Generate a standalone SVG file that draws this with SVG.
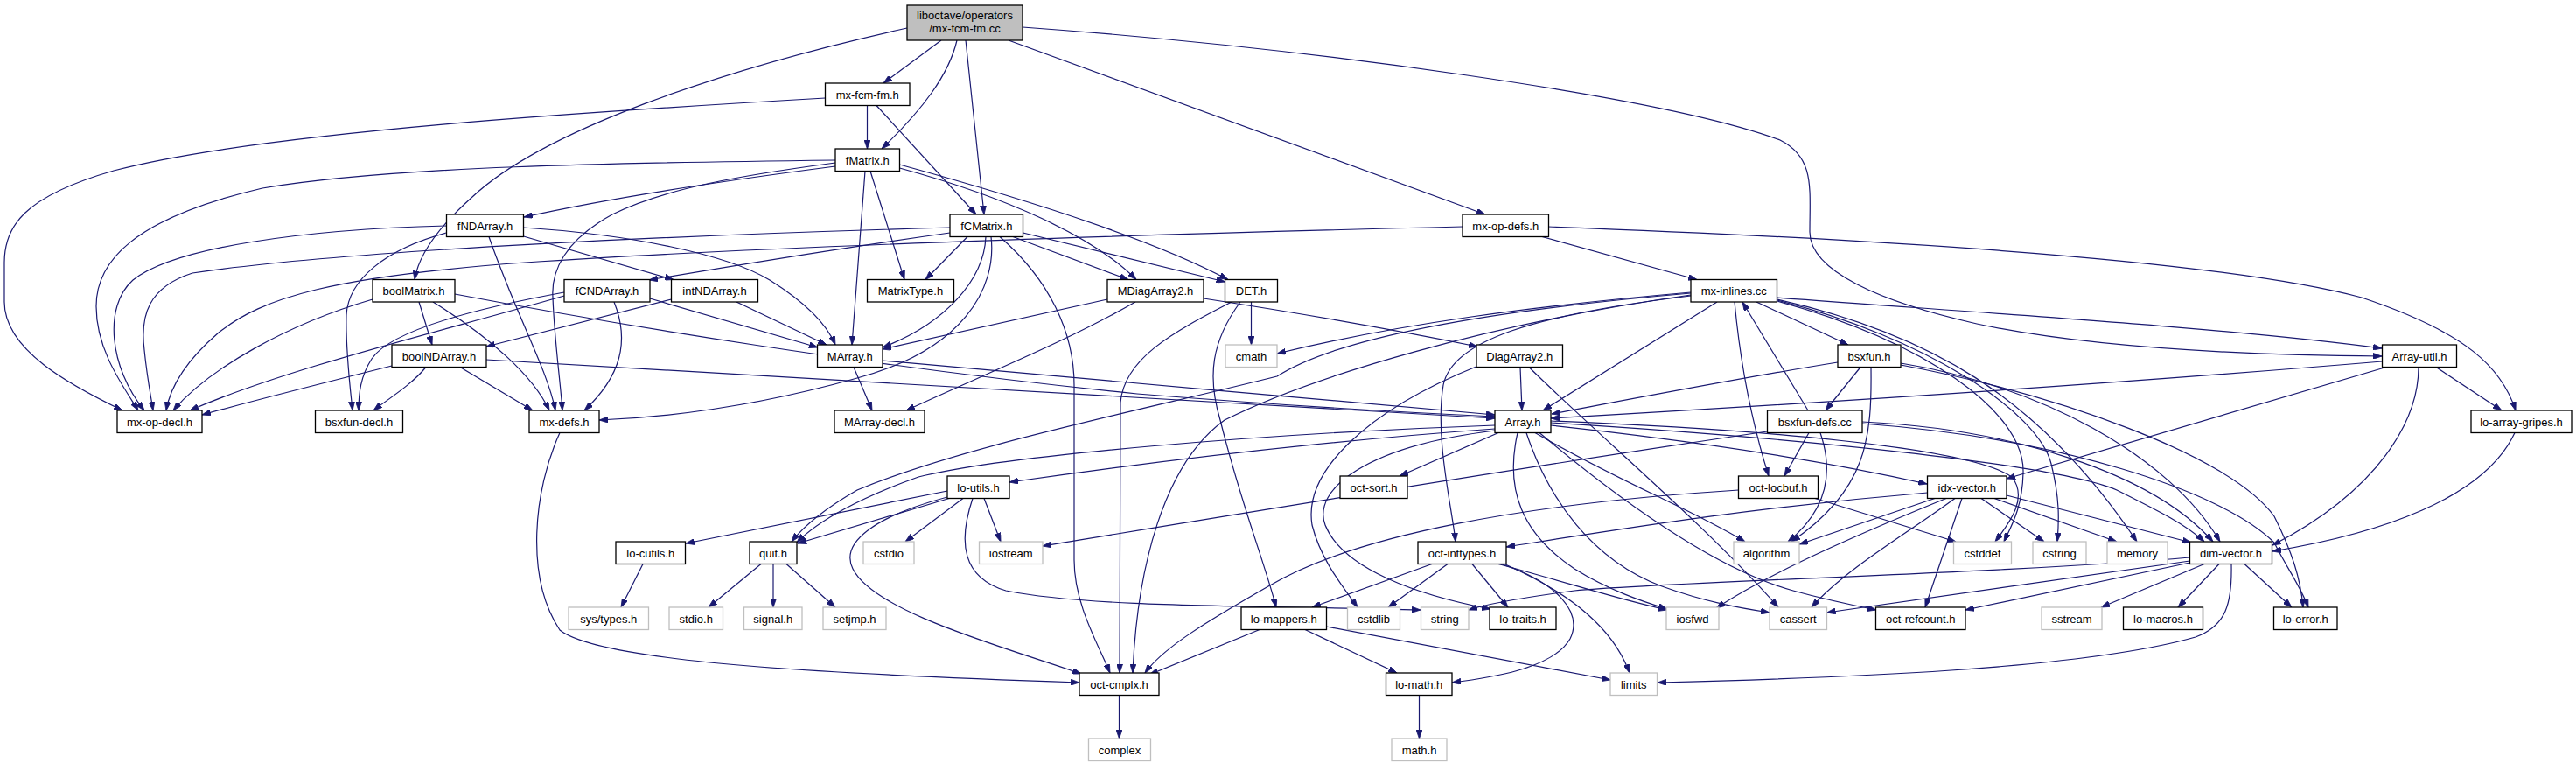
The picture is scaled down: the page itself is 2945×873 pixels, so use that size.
<svg xmlns="http://www.w3.org/2000/svg" width="2945" height="873" viewBox="0 0 2945 873">
<defs>
<marker id="a" viewBox="0 0 10 7" refX="10" refY="3.5" markerWidth="10" markerHeight="7" markerUnits="userSpaceOnUse" orient="auto">
<path d="M0,0 L10,3.5 L0,7 z" fill="#191970" stroke="#191970" stroke-width="0.8"/>
</marker>
<style>
rect{fill:#fff;stroke:#000;stroke-width:1.3}
.g rect{stroke:#bfbfbf}
.r rect{fill:#bfbfbf}
text{font-family:"Liberation Sans",Arial,Helvetica,sans-serif;font-size:13px;text-anchor:middle;fill:#000}
#edges path{fill:none;stroke:#191970;stroke-width:1.2;marker-end:url(#a)}
</style>
</defs>
<rect x="0" y="0" width="2945" height="873" style="fill:#fff;stroke:none"/>
<g id="edges">
<path d="M1076,46 L1010,95"/>
<path d="M1094,46 C1085,85 1055,125 1008,170"/>
<path d="M1104,46 L1125,245"/>
<path d="M1153,46 L1698,245"/>
<path d="M1037,32 C820,80 620,150 540,225 C495,265 478,295 474,319.5"/>
<path d="M1169,31 C1500,55 1900,110 2035,160 C2075,180 2069,215 2069,265 C2069,310 2150,345 2260,370 C2400,400 2600,406 2723,407"/>
<path d="M943.5,112 C700,126 300,150 130,195 C25,225 5,260 5,300 L5,345 C5,400 80,440 140,469"/>
<path d="M991.5,120.5 L991.5,170"/>
<path d="M1002,120.5 L1116,245"/>
<path d="M955,183 C700,186 450,190 300,215 C150,250 110,300 110,350 C110,400 140,440 158,469"/>
<path d="M955,190 C800,210 680,230 599,248"/>
<path d="M955,186 C850,200 760,215 700,245 C645,275 630,310 632,340 C634,390 640,430 643,469"/>
<path d="M989,195.5 L974,394"/>
<path d="M995,195.5 L1034,319.5"/>
<path d="M1028.5,192 C1150,225 1250,270 1299,319.5"/>
<path d="M1028.5,188 C1200,235 1330,280 1404,319.5"/>
<path d="M510.5,258 C350,262 200,282 152,320 C118,350 125,420 165,469"/>
<path d="M510.5,266 C440,285 398,320 396,360 C395,400 400,440 403,469"/>
<path d="M559,270.5 C590,360 625,420 635,469"/>
<path d="M598.5,260 C720,268 830,290 880,320 C920,345 945,370 955,394"/>
<path d="M598.5,270 L770,319.5"/>
<path d="M1086,260 C800,268 400,285 220,312 C170,328 160,360 165,400 C168,430 172,450 175,469"/>
<path d="M1086,266 C950,285 830,305 742,320"/>
<path d="M1106,270.5 L1058,319.5"/>
<path d="M1127,270.5 C1125,320 1080,370 1009,397"/>
<path d="M1133,270.5 C1140,330 1100,400 980,432 C880,460 780,476 685,480"/>
<path d="M1143,270.5 C1200,320 1228,380 1228,440 L1228,640 C1228,690 1255,735 1269,769"/>
<path d="M1158,270.5 L1290,319.5"/>
<path d="M1169.5,266 L1400.5,322"/>
<path d="M1672,259 C1300,268 900,280 600,300 C380,316 300,340 250,380 C215,410 195,440 190,469"/>
<path d="M1763,270.5 L1940,319.5"/>
<path d="M1770.5,259 C2200,275 2550,300 2700,340 C2820,380 2860,420 2876,469"/>
<path d="M426,342 C330,370 240,420 198,469"/>
<path d="M479,345 L494,394"/>
<path d="M495,345 C560,385 610,430 628,469"/>
<path d="M520,336 C700,370 1000,420 1300,450 C1500,466 1620,472 1709,476"/>
<path d="M556,411 C900,430 1300,455 1709,478"/>
<path d="M1009,412 C1200,430 1500,455 1709,474"/>
<path d="M448,418 C380,435 300,455 231,474"/>
<path d="M487,419.5 C470,440 445,455 427,469"/>
<path d="M526,419.5 L609,469"/>
<path d="M645,334 C530,355 445,380 425,410 C412,430 410,450 410,469"/>
<path d="M645,338 C500,380 330,420 217,469"/>
<path d="M702,345 C720,390 710,430 668,469"/>
<path d="M743,341 L935,397"/>
<path d="M767.5,342 L556,396"/>
<path d="M842,345 L945,394"/>
<path d="M1266,342 L1009,399"/>
<path d="M1298,345 C1220,390 1120,430 1036,469"/>
<path d="M1376,341 C1500,360 1600,378 1689,396"/>
<path d="M1430.5,345 L1430.5,394"/>
<path d="M1408,345 C1340,380 1285,410 1281,460 L1280,769"/>
<path d="M1418,345 C1385,390 1380,430 1395,480 C1420,580 1445,640 1459,694"/>
<path d="M1933,334 C1750,350 1600,370 1460,404"/>
<path d="M1933,335 C1700,355 1530,385 1460,430 C1300,470 1100,510 980,560 C945,580 920,600 905,619"/>
<path d="M1933,337 C1700,370 1500,430 1400,480 C1330,530 1300,650 1295,769"/>
<path d="M1933,338 C1750,360 1660,390 1650,440 C1640,500 1660,580 1664,619"/>
<path d="M1963,345 L1764,469"/>
<path d="M1983,345 C1990,420 2005,490 2022,544"/>
<path d="M2008,345 L2113,394"/>
<path d="M2031.5,340 C2300,360 2550,375 2723,398"/>
<path d="M2031.5,342 C2200,380 2330,450 2443,619"/>
<path d="M2031.5,344 C2200,390 2315,470 2313,540 C2312,580 2300,600 2291,619"/>
<path d="M2031.5,343 C2200,385 2330,470 2345,530 C2355,570 2354,595 2352,619"/>
<path d="M2101,414 C2000,430 1870,455 1774,473"/>
<path d="M2127,419.5 L2087,469"/>
<path d="M2139,419.5 C2140,500 2135,560 2048,619"/>
<path d="M2173,415 C2330,440 2480,520 2538,619"/>
<path d="M2173,417 C2350,450 2550,520 2600,590 C2620,630 2630,660 2633,694"/>
<path d="M2723.5,413 C2400,440 2000,465 1773,478"/>
<path d="M2728,419.5 L2294,547"/>
<path d="M2765,419.5 C2765,480 2720,560 2598,623"/>
<path d="M2785,419.5 L2860,469"/>
<path d="M2067,469 L1992,345"/>
<path d="M2068,494.5 L2040,544"/>
<path d="M2081,494.5 C2100,550 2080,590 2044,619"/>
<path d="M2020.5,493 C1700,540 1400,590 1192,624"/>
<path d="M2129,482 C2300,490 2460,540 2530,619"/>
<path d="M2129,484 C2350,500 2540,560 2600,620 C2615,650 2630,670 2639,694"/>
<path d="M1709,490 C1500,505 1300,530 1154,551"/>
<path d="M1709,486 C1450,495 1150,520 1050,545 C985,568 935,595 911,620"/>
<path d="M1713,494.5 L1600,544"/>
<path d="M1709,492 C1560,510 1500,560 1515,600 C1535,650 1620,680 1704,696"/>
<path d="M1735,494.5 C1720,560 1740,610 1800,650 C1840,675 1880,688 1906,696"/>
<path d="M1745,494.5 C1770,570 1820,640 1900,670 C1950,688 1990,695 2023,700"/>
<path d="M1755,494.5 C1850,550 1930,580 1995,619"/>
<path d="M1760,494.5 C1850,570 1960,650 2050,675 C2090,686 2120,692 2145,697"/>
<path d="M1773,486 C1950,505 2100,530 2203,553"/>
<path d="M1773,483 C2050,500 2350,530 2420,560 C2470,585 2500,600 2520,619"/>
<path d="M1773,481 C2000,490 2250,510 2300,545 C2320,570 2295,600 2281,619"/>
<path d="M1083,561 L784,621"/>
<path d="M1085,569.5 L912,621"/>
<path d="M1101,569.5 L1035,619"/>
<path d="M1125,569.5 L1144,619"/>
<path d="M1083,568 C1000,590 960,620 975,650 C1000,700 1150,740 1236,770"/>
<path d="M1112,569.5 C1095,620 1100,660 1150,675 C1250,695 1450,692 1624,697"/>
<path d="M735,644.5 L710,694"/>
<path d="M870,644.5 L810,694"/>
<path d="M884,644.5 L884,694"/>
<path d="M899,644.5 L955,694"/>
<path d="M1637,644.5 L1500,694"/>
<path d="M1655,644.5 L1587,694"/>
<path d="M1683,644.5 L1724,694"/>
<path d="M1713,644.5 C1790,665 1850,685 1906,697"/>
<path d="M1716,644.5 C1780,665 1810,700 1795,730 C1775,765 1700,775 1660,780"/>
<path d="M1720,644.5 C1800,680 1845,720 1863,769"/>
<path d="M1440,719.5 L1314,771"/>
<path d="M1492,719.5 L1597,769"/>
<path d="M1516.5,716 L1841,777"/>
<path d="M1987.5,560 C1750,575 1550,610 1450,670 C1380,710 1330,740 1309,769"/>
<path d="M2075,569.5 L2236,619"/>
<path d="M2203.5,563 C2000,580 1850,605 1722,625"/>
<path d="M2212,569.5 L2057,622"/>
<path d="M2225,569.5 C2150,600 2030,650 1962,695"/>
<path d="M2235,569.5 C2180,610 2110,650 2071,694"/>
<path d="M2243,569.5 L2201,694"/>
<path d="M2265,569.5 L2337,619"/>
<path d="M2280,569.5 L2420,619"/>
<path d="M2294,566 L2505,620"/>
<path d="M2503.5,637 C2300,655 1900,665 1800,675 C1740,683 1700,690 1679,697"/>
<path d="M2503.5,641 C2300,670 2150,690 2088.5,700"/>
<path d="M2503.5,643 L2247,697"/>
<path d="M2520,644.5 L2402,694"/>
<path d="M2537,644.5 L2490,694"/>
<path d="M2566,644.5 L2620,694"/>
<path d="M2551,644.5 C2552,690 2545,715 2510,728 C2380,765 2100,775 1895,780"/>
<path d="M2875,494.5 C2840,570 2720,610 2598,630"/>
<path d="M1622.5,794.5 L1622.5,844"/>
<path d="M1279.5,794.5 L1279.5,844"/>
<path d="M640,494.5 C610,560 600,660 640,720 C690,760 1000,772 1234,780"/>
<path d="M976,419.5 L997,469"/>
<path d="M1738,419.5 L1740,469"/>
<path d="M1748,419.5 C1830,500 1950,600 2033,694"/>
<path d="M1690,418 C1560,470 1490,540 1500,600 C1510,640 1535,670 1552,694"/>
</g>
<g id="node-top" class="r"><rect x="1037" y="6" width="132" height="40"/><text x="1103" y="22">liboctave/operators</text><text x="1103" y="37">/mx-fcm-fm.cc</text></g>
<g id="node-mx-fcm-fm-h"><rect x="943.5" y="95" width="96.5" height="25.5"/><text x="991.75" y="112.5">mx-fcm-fm.h</text></g>
<g id="node-fMatrix-h"><rect x="955" y="170" width="73.5" height="25.5"/><text x="991.75" y="187.5">fMatrix.h</text></g>
<g id="node-fNDArray-h"><rect x="510.5" y="245" width="88" height="25.5"/><text x="554.5" y="262.5">fNDArray.h</text></g>
<g id="node-fCMatrix-h"><rect x="1086" y="245" width="83.5" height="25.5"/><text x="1127.75" y="262.5">fCMatrix.h</text></g>
<g id="node-mx-op-defs-h"><rect x="1672" y="245" width="98.5" height="25.5"/><text x="1721.25" y="262.5">mx-op-defs.h</text></g>
<g id="node-boolMatrix-h"><rect x="426" y="319.5" width="94" height="25.5"/><text x="473" y="337">boolMatrix.h</text></g>
<g id="node-fCNDArray-h"><rect x="645" y="319.5" width="98" height="25.5"/><text x="694" y="337">fCNDArray.h</text></g>
<g id="node-intNDArray-h"><rect x="767.5" y="319.5" width="99" height="25.5"/><text x="817" y="337">intNDArray.h</text></g>
<g id="node-MatrixType-h"><rect x="991.5" y="319.5" width="99" height="25.5"/><text x="1041" y="337">MatrixType.h</text></g>
<g id="node-MDiagArray2-h"><rect x="1266" y="319.5" width="110" height="25.5"/><text x="1321" y="337">MDiagArray2.h</text></g>
<g id="node-DET-h"><rect x="1400.5" y="319.5" width="60" height="25.5"/><text x="1430.5" y="337">DET.h</text></g>
<g id="node-mx-inlines-cc"><rect x="1933" y="319.5" width="98.5" height="25.5"/><text x="1982.25" y="337">mx-inlines.cc</text></g>
<g id="node-boolNDArray-h"><rect x="448" y="394" width="108" height="25.5"/><text x="502" y="411.5">boolNDArray.h</text></g>
<g id="node-MArray-h"><rect x="934.5" y="394" width="74.5" height="25.5"/><text x="971.75" y="411.5">MArray.h</text></g>
<g id="node-cmath" class="g"><rect x="1401" y="394" width="59" height="25.5"/><text x="1430.5" y="411.5">cmath</text></g>
<g id="node-DiagArray2-h"><rect x="1688" y="394" width="98.5" height="25.5"/><text x="1737.25" y="411.5">DiagArray2.h</text></g>
<g id="node-bsxfun-h"><rect x="2101" y="394" width="72" height="25.5"/><text x="2137" y="411.5">bsxfun.h</text></g>
<g id="node-Array-util-h"><rect x="2723.5" y="394" width="85" height="25.5"/><text x="2766" y="411.5">Array-util.h</text></g>
<g id="node-mx-op-decl-h"><rect x="134" y="469" width="97" height="25.5"/><text x="182.5" y="486.5">mx-op-decl.h</text></g>
<g id="node-bsxfun-decl-h"><rect x="360.5" y="469" width="100" height="25.5"/><text x="410.5" y="486.5">bsxfun-decl.h</text></g>
<g id="node-mx-defs-h"><rect x="605" y="469" width="80" height="25.5"/><text x="645" y="486.5">mx-defs.h</text></g>
<g id="node-MArray-decl-h"><rect x="954" y="469" width="103" height="25.5"/><text x="1005.5" y="486.5">MArray-decl.h</text></g>
<g id="node-Array-h"><rect x="1709" y="469" width="64" height="25.5"/><text x="1741" y="486.5">Array.h</text></g>
<g id="node-bsxfun-defs-cc"><rect x="2020.5" y="469" width="108.5" height="25.5"/><text x="2074.75" y="486.5">bsxfun-defs.cc</text></g>
<g id="node-lo-array-gripes-h"><rect x="2825" y="469" width="115" height="25.5"/><text x="2882.5" y="486.5">lo-array-gripes.h</text></g>
<g id="node-lo-utils-h"><rect x="1083" y="544" width="71" height="25.5"/><text x="1118.5" y="561.5">lo-utils.h</text></g>
<g id="node-oct-sort-h"><rect x="1532" y="544" width="77" height="25.5"/><text x="1570.5" y="561.5">oct-sort.h</text></g>
<g id="node-idx-vector-h"><rect x="2203.5" y="544" width="90.5" height="25.5"/><text x="2248.75" y="561.5">idx-vector.h</text></g>
<g id="node-oct-locbuf-h"><rect x="1987.5" y="544" width="91" height="25.5"/><text x="2033" y="561.5">oct-locbuf.h</text></g>
<g id="node-lo-cutils-h"><rect x="704" y="619" width="79.5" height="25.5"/><text x="743.75" y="636.5">lo-cutils.h</text></g>
<g id="node-quit-h"><rect x="857" y="619" width="54" height="25.5"/><text x="884" y="636.5">quit.h</text></g>
<g id="node-cstdio" class="g"><rect x="987" y="619" width="58" height="25.5"/><text x="1016" y="636.5">cstdio</text></g>
<g id="node-iostream" class="g"><rect x="1119.5" y="619" width="72.5" height="25.5"/><text x="1155.75" y="636.5">iostream</text></g>
<g id="node-oct-inttypes-h"><rect x="1621" y="619" width="101" height="25.5"/><text x="1671.5" y="636.5">oct-inttypes.h</text></g>
<g id="node-algorithm" class="g"><rect x="1982" y="619" width="75" height="25.5"/><text x="2019.5" y="636.5">algorithm</text></g>
<g id="node-cstddef" class="g"><rect x="2233.5" y="619" width="66" height="25.5"/><text x="2266.5" y="636.5">cstddef</text></g>
<g id="node-cstring" class="g"><rect x="2324" y="619" width="61" height="25.5"/><text x="2354.5" y="636.5">cstring</text></g>
<g id="node-memory" class="g"><rect x="2409" y="619" width="69" height="25.5"/><text x="2443.5" y="636.5">memory</text></g>
<g id="node-dim-vector-h"><rect x="2503.5" y="619" width="94" height="25.5"/><text x="2550.5" y="636.5">dim-vector.h</text></g>
<g id="node-sys-types-h" class="g"><rect x="650" y="694" width="91.5" height="25.5"/><text x="695.75" y="711.5">sys/types.h</text></g>
<g id="node-stdio-h" class="g"><rect x="765" y="694" width="61.5" height="25.5"/><text x="795.75" y="711.5">stdio.h</text></g>
<g id="node-signal-h" class="g"><rect x="850.5" y="694" width="66.5" height="25.5"/><text x="883.75" y="711.5">signal.h</text></g>
<g id="node-setjmp-h" class="g"><rect x="941" y="694" width="72" height="25.5"/><text x="977" y="711.5">setjmp.h</text></g>
<g id="node-lo-mappers-h"><rect x="1419" y="694" width="97.5" height="25.5"/><text x="1467.75" y="711.5">lo-mappers.h</text></g>
<g id="node-cstdlib" class="g"><rect x="1540.5" y="694" width="60" height="25.5"/><text x="1570.5" y="711.5">cstdlib</text></g>
<g id="node-string" class="g"><rect x="1624.5" y="694" width="54.5" height="25.5"/><text x="1651.75" y="711.5">string</text></g>
<g id="node-lo-traits-h"><rect x="1703" y="694" width="76" height="25.5"/><text x="1741" y="711.5">lo-traits.h</text></g>
<g id="node-iosfwd" class="g"><rect x="1905" y="694" width="60" height="25.5"/><text x="1935" y="711.5">iosfwd</text></g>
<g id="node-cassert" class="g"><rect x="2023" y="694" width="65.5" height="25.5"/><text x="2055.75" y="711.5">cassert</text></g>
<g id="node-oct-refcount-h"><rect x="2144.5" y="694" width="102.5" height="25.5"/><text x="2195.75" y="711.5">oct-refcount.h</text></g>
<g id="node-sstream" class="g"><rect x="2334" y="694" width="69" height="25.5"/><text x="2368.5" y="711.5">sstream</text></g>
<g id="node-lo-macros-h"><rect x="2427.5" y="694" width="91" height="25.5"/><text x="2473" y="711.5">lo-macros.h</text></g>
<g id="node-lo-error-h"><rect x="2599.5" y="694" width="72.5" height="25.5"/><text x="2635.75" y="711.5">lo-error.h</text></g>
<g id="node-oct-cmplx-h"><rect x="1234" y="769" width="91" height="25.5"/><text x="1279.5" y="786.5">oct-cmplx.h</text></g>
<g id="node-lo-math-h"><rect x="1584.5" y="769" width="75.5" height="25.5"/><text x="1622.25" y="786.5">lo-math.h</text></g>
<g id="node-limits" class="g"><rect x="1841" y="769" width="53.5" height="25.5"/><text x="1867.75" y="786.5">limits</text></g>
<g id="node-complex" class="g"><rect x="1244.5" y="844" width="71" height="25.5"/><text x="1280" y="861.5">complex</text></g>
<g id="node-math-h" class="g"><rect x="1591" y="844" width="63" height="25.5"/><text x="1622.5" y="861.5">math.h</text></g>
</svg>
